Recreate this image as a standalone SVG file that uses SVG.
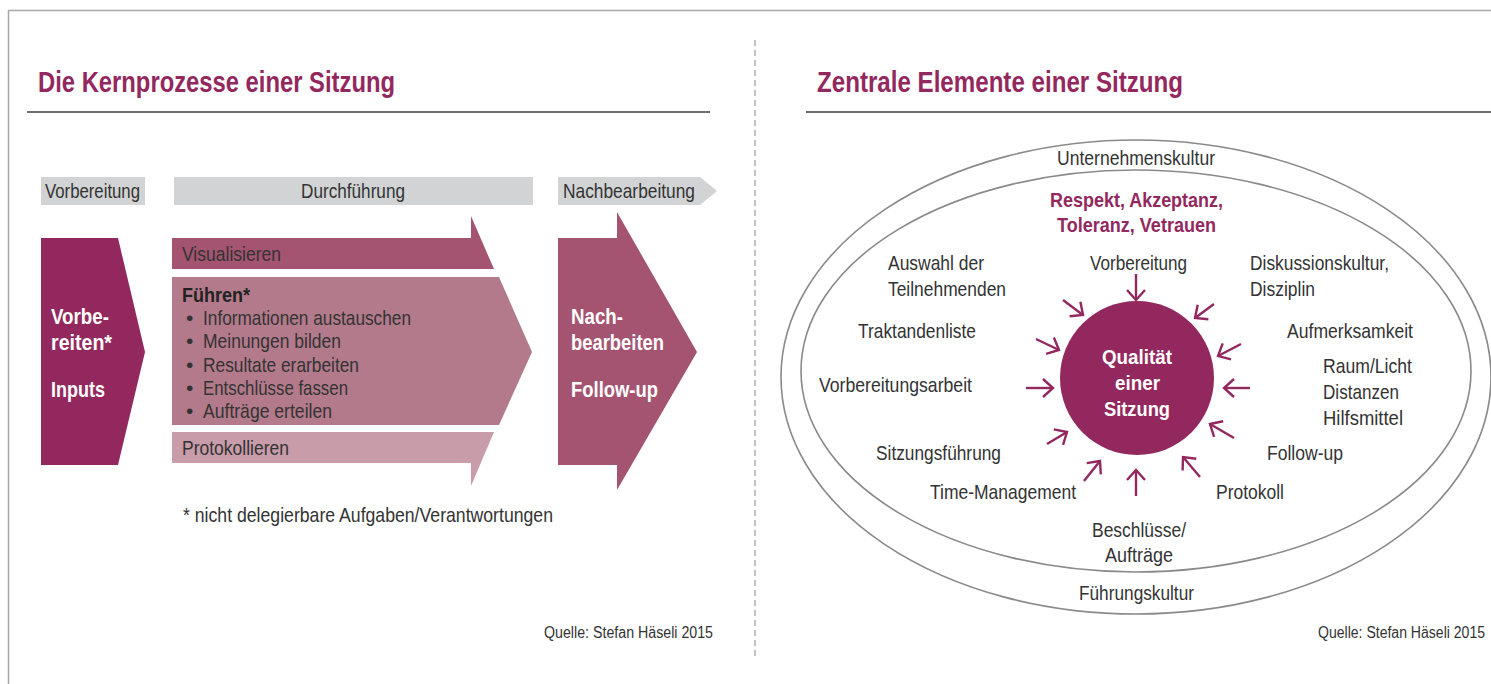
<svg xmlns="http://www.w3.org/2000/svg" width="1491" height="684" viewBox="0 0 1491 684">
  <defs>
    <style>
      text { font-family: "Liberation Sans", Arial, sans-serif; fill: #333333; }
      .title { font-size: 29px; font-weight: bold; fill: #93285e; }
      .body { font-size: 21px; }
      .wb { font-size: 22px; font-weight: bold; fill: #ffffff; }
      .pb { font-size: 21px; font-weight: bold; fill: #93285e; }
      .src { font-size: 16px; }
      .rule { stroke: #6d6e70; stroke-width: 2; }
      .ring { fill: none; stroke: #8a8a8a; stroke-width: 1.6; }
      .conn { stroke: #93285e; stroke-width: 2.4; fill: none; marker-end: url(#chev); }
    </style>
    <marker id="chev" viewBox="0 -11 15 22" refX="12" refY="0" markerWidth="15" markerHeight="22" markerUnits="userSpaceOnUse" orient="auto">
      <path d="M2,-9 L12,0 L2,9" fill="none" stroke="#93285e" stroke-width="2.4"/>
    </marker>
  </defs>

  <rect width="1491" height="684" fill="#ffffff"/>

  <!-- frame and divider -->
  <path d="M8.5,684 V10.5 H1491" fill="none" stroke="#a8a8a8" stroke-width="1.5"/>
  <line x1="755" y1="40" x2="755" y2="660" stroke="#9a9a9a" stroke-width="1.2" stroke-dasharray="6 4"/>

  <!-- left panel: core processes -->
  <g id="title-left">
    <text class="title" x="38" y="92" textLength="357" lengthAdjust="spacingAndGlyphs">Die Kernprozesse einer Sitzung</text>
    <line class="rule" x1="27" y1="112" x2="710" y2="112"/>
  </g>

  <g id="phase-vorbereitung">
    <rect x="41" y="177" width="104" height="28" fill="#d1d3d4"/>
    <text class="body" x="45" y="198" textLength="95" lengthAdjust="spacingAndGlyphs">Vorbereitung</text>
  </g>
  <g id="phase-durchfuehrung">
    <rect x="174" y="177" width="359" height="28" fill="#d1d3d4"/>
    <text class="body" x="301" y="198" textLength="104" lengthAdjust="spacingAndGlyphs">Durchführung</text>
  </g>
  <g id="phase-nachbearbeitung">
    <polygon points="558,177 700,177 717,191 700,205 558,205" fill="#d1d3d4"/>
    <text class="body" x="563" y="198" textLength="132" lengthAdjust="spacingAndGlyphs">Nachbearbeitung</text>
  </g>

  <g id="vorbereiten">
    <polygon points="41,238 118,238 145,352 118,465 41,465" fill="#93285e"/>
    <text class="wb" x="51" y="324" textLength="58" lengthAdjust="spacingAndGlyphs">Vorbe-</text>
    <text class="wb" x="51" y="350" textLength="61" lengthAdjust="spacingAndGlyphs">reiten*</text>
    <text class="wb" x="51" y="397" textLength="54" lengthAdjust="spacingAndGlyphs">Inputs</text>
  </g>

  <g id="visualisieren">
    <polygon points="172,238 471,238 471,216 494,269 172,269" fill="#a45471"/>
    <text class="body" x="182" y="261" textLength="99" lengthAdjust="spacingAndGlyphs">Visualisieren</text>
  </g>

  <g id="fuehren">
    <polygon points="172,277 499,277 532,352 499,425 172,425" fill="#b37a8b"/>
    <text class="body" x="182" y="302" font-weight="bold" style="fill:#222222" textLength="68" lengthAdjust="spacingAndGlyphs">Führen*</text>
    <g class="body">
      <text x="186" y="325">•</text><text x="203" y="325" textLength="208" lengthAdjust="spacingAndGlyphs">Informationen austauschen</text>
      <text x="186" y="348">•</text><text x="203" y="348" textLength="138" lengthAdjust="spacingAndGlyphs">Meinungen bilden</text>
      <text x="186" y="372">•</text><text x="203" y="372" textLength="156" lengthAdjust="spacingAndGlyphs">Resultate erarbeiten</text>
      <text x="186" y="395">•</text><text x="203" y="395" textLength="145" lengthAdjust="spacingAndGlyphs">Entschlüsse fassen</text>
      <text x="186" y="418">•</text><text x="203" y="418" textLength="129" lengthAdjust="spacingAndGlyphs">Aufträge erteilen</text>
    </g>
  </g>

  <g id="protokollieren">
    <polygon points="172,432 494,432 471,486 471,463 172,463" fill="#c89ca9"/>
    <text class="body" x="182" y="455" textLength="107" lengthAdjust="spacingAndGlyphs">Protokollieren</text>
  </g>

  <g id="nachbearbeiten">
    <polygon points="558,238 617,238 617,212 697,352 617,490 617,465 558,465" fill="#a45471"/>
    <text class="wb" x="571" y="324" textLength="52" lengthAdjust="spacingAndGlyphs">Nach-</text>
    <text class="wb" x="571" y="350" textLength="93" lengthAdjust="spacingAndGlyphs">bearbeiten</text>
    <text class="wb" x="571" y="397" textLength="87" lengthAdjust="spacingAndGlyphs">Follow-up</text>
  </g>

  <g id="note-left">
    <text class="body" x="183" y="522" textLength="370" lengthAdjust="spacingAndGlyphs">* nicht delegierbare Aufgaben/Verantwortungen</text>
    <text class="src" x="544" y="638" textLength="169" lengthAdjust="spacingAndGlyphs">Quelle: Stefan Häseli 2015</text>
  </g>

  <!-- right panel: central elements -->
  <g id="title-right">
    <text class="title" x="817" y="92" textLength="366" lengthAdjust="spacingAndGlyphs">Zentrale Elemente einer Sitzung</text>
    <line class="rule" x1="806" y1="112" x2="1491" y2="112"/>
  </g>

  <g id="unternehmenskultur">
    <ellipse class="ring" cx="1136" cy="377" rx="355" ry="237"/>
    <text class="body" x="1057" y="165" textLength="158" lengthAdjust="spacingAndGlyphs">Unternehmenskultur</text>
    <text class="body" x="1079" y="600" textLength="115" lengthAdjust="spacingAndGlyphs">Führungskultur</text>
  </g>

  <g id="werte">
    <ellipse class="ring" cx="1136" cy="371" rx="335" ry="201"/>
    <text class="pb" x="1050" y="207" textLength="173" lengthAdjust="spacingAndGlyphs">Respekt, Akzeptanz,</text>
    <text class="pb" x="1057" y="232" textLength="159" lengthAdjust="spacingAndGlyphs">Toleranz, Vetrauen</text>
  </g>

  <g id="qualitaet">
    <circle cx="1137" cy="378" r="77" fill="#93285e"/>
    <text class="wb" x="1102" y="364" style="font-size:21px" textLength="70" lengthAdjust="spacingAndGlyphs">Qualität</text>
    <text class="wb" x="1115" y="390" style="font-size:21px" textLength="45" lengthAdjust="spacingAndGlyphs">einer</text>
    <text class="wb" x="1104" y="416" style="font-size:21px" textLength="66" lengthAdjust="spacingAndGlyphs">Sitzung</text>
  </g>

  <g id="elemente" class="body">
    <text x="888" y="270" textLength="96" lengthAdjust="spacingAndGlyphs">Auswahl der</text>
    <text x="888" y="296" textLength="118" lengthAdjust="spacingAndGlyphs">Teilnehmenden</text>
    <text x="1090" y="270" textLength="97" lengthAdjust="spacingAndGlyphs">Vorbereitung</text>
    <text x="1250" y="270" textLength="139" lengthAdjust="spacingAndGlyphs">Diskussionskultur,</text>
    <text x="1250" y="296" textLength="65" lengthAdjust="spacingAndGlyphs">Disziplin</text>
    <text x="858" y="338" textLength="118" lengthAdjust="spacingAndGlyphs">Traktandenliste</text>
    <text x="1287" y="338" textLength="126" lengthAdjust="spacingAndGlyphs">Aufmerksamkeit</text>
    <text x="1323" y="373" textLength="89" lengthAdjust="spacingAndGlyphs">Raum/Licht</text>
    <text x="1323" y="399" textLength="76" lengthAdjust="spacingAndGlyphs">Distanzen</text>
    <text x="1323" y="425" textLength="80" lengthAdjust="spacingAndGlyphs">Hilfsmittel</text>
    <text x="819" y="392" textLength="153" lengthAdjust="spacingAndGlyphs">Vorbereitungsarbeit</text>
    <text x="876" y="460" textLength="125" lengthAdjust="spacingAndGlyphs">Sitzungsführung</text>
    <text x="1267" y="460" textLength="76" lengthAdjust="spacingAndGlyphs">Follow-up</text>
    <text x="930" y="499" textLength="146" lengthAdjust="spacingAndGlyphs">Time-Management</text>
    <text x="1216" y="499" textLength="68" lengthAdjust="spacingAndGlyphs">Protokoll</text>
    <text x="1092" y="537" textLength="94" lengthAdjust="spacingAndGlyphs">Beschlüsse/</text>
    <text x="1105" y="562" textLength="68" lengthAdjust="spacingAndGlyphs">Aufträge</text>
  </g>

  <!-- inward arrows onto the quality circle -->
  <g id="connectors">
    <line class="conn" x1="1136" y1="274" x2="1136" y2="300"/>
    <line class="conn" x1="1214" y1="304" x2="1195" y2="318"/>
    <line class="conn" x1="1241" y1="344" x2="1218" y2="356"/>
    <line class="conn" x1="1250" y1="388" x2="1224" y2="388"/>
    <line class="conn" x1="1234" y1="438" x2="1210" y2="424"/>
    <line class="conn" x1="1200" y1="477" x2="1183" y2="457"/>
    <line class="conn" x1="1136" y1="496" x2="1136" y2="470"/>
    <line class="conn" x1="1084" y1="481" x2="1100" y2="461"/>
    <line class="conn" x1="1047" y1="444" x2="1067" y2="432"/>
    <line class="conn" x1="1026" y1="388" x2="1053" y2="388"/>
    <line class="conn" x1="1036" y1="339" x2="1059" y2="350"/>
    <line class="conn" x1="1063" y1="300" x2="1083" y2="315"/>
  </g>

  <text class="src" x="1318" y="638" textLength="167" lengthAdjust="spacingAndGlyphs">Quelle: Stefan Häseli 2015</text>
</svg>
